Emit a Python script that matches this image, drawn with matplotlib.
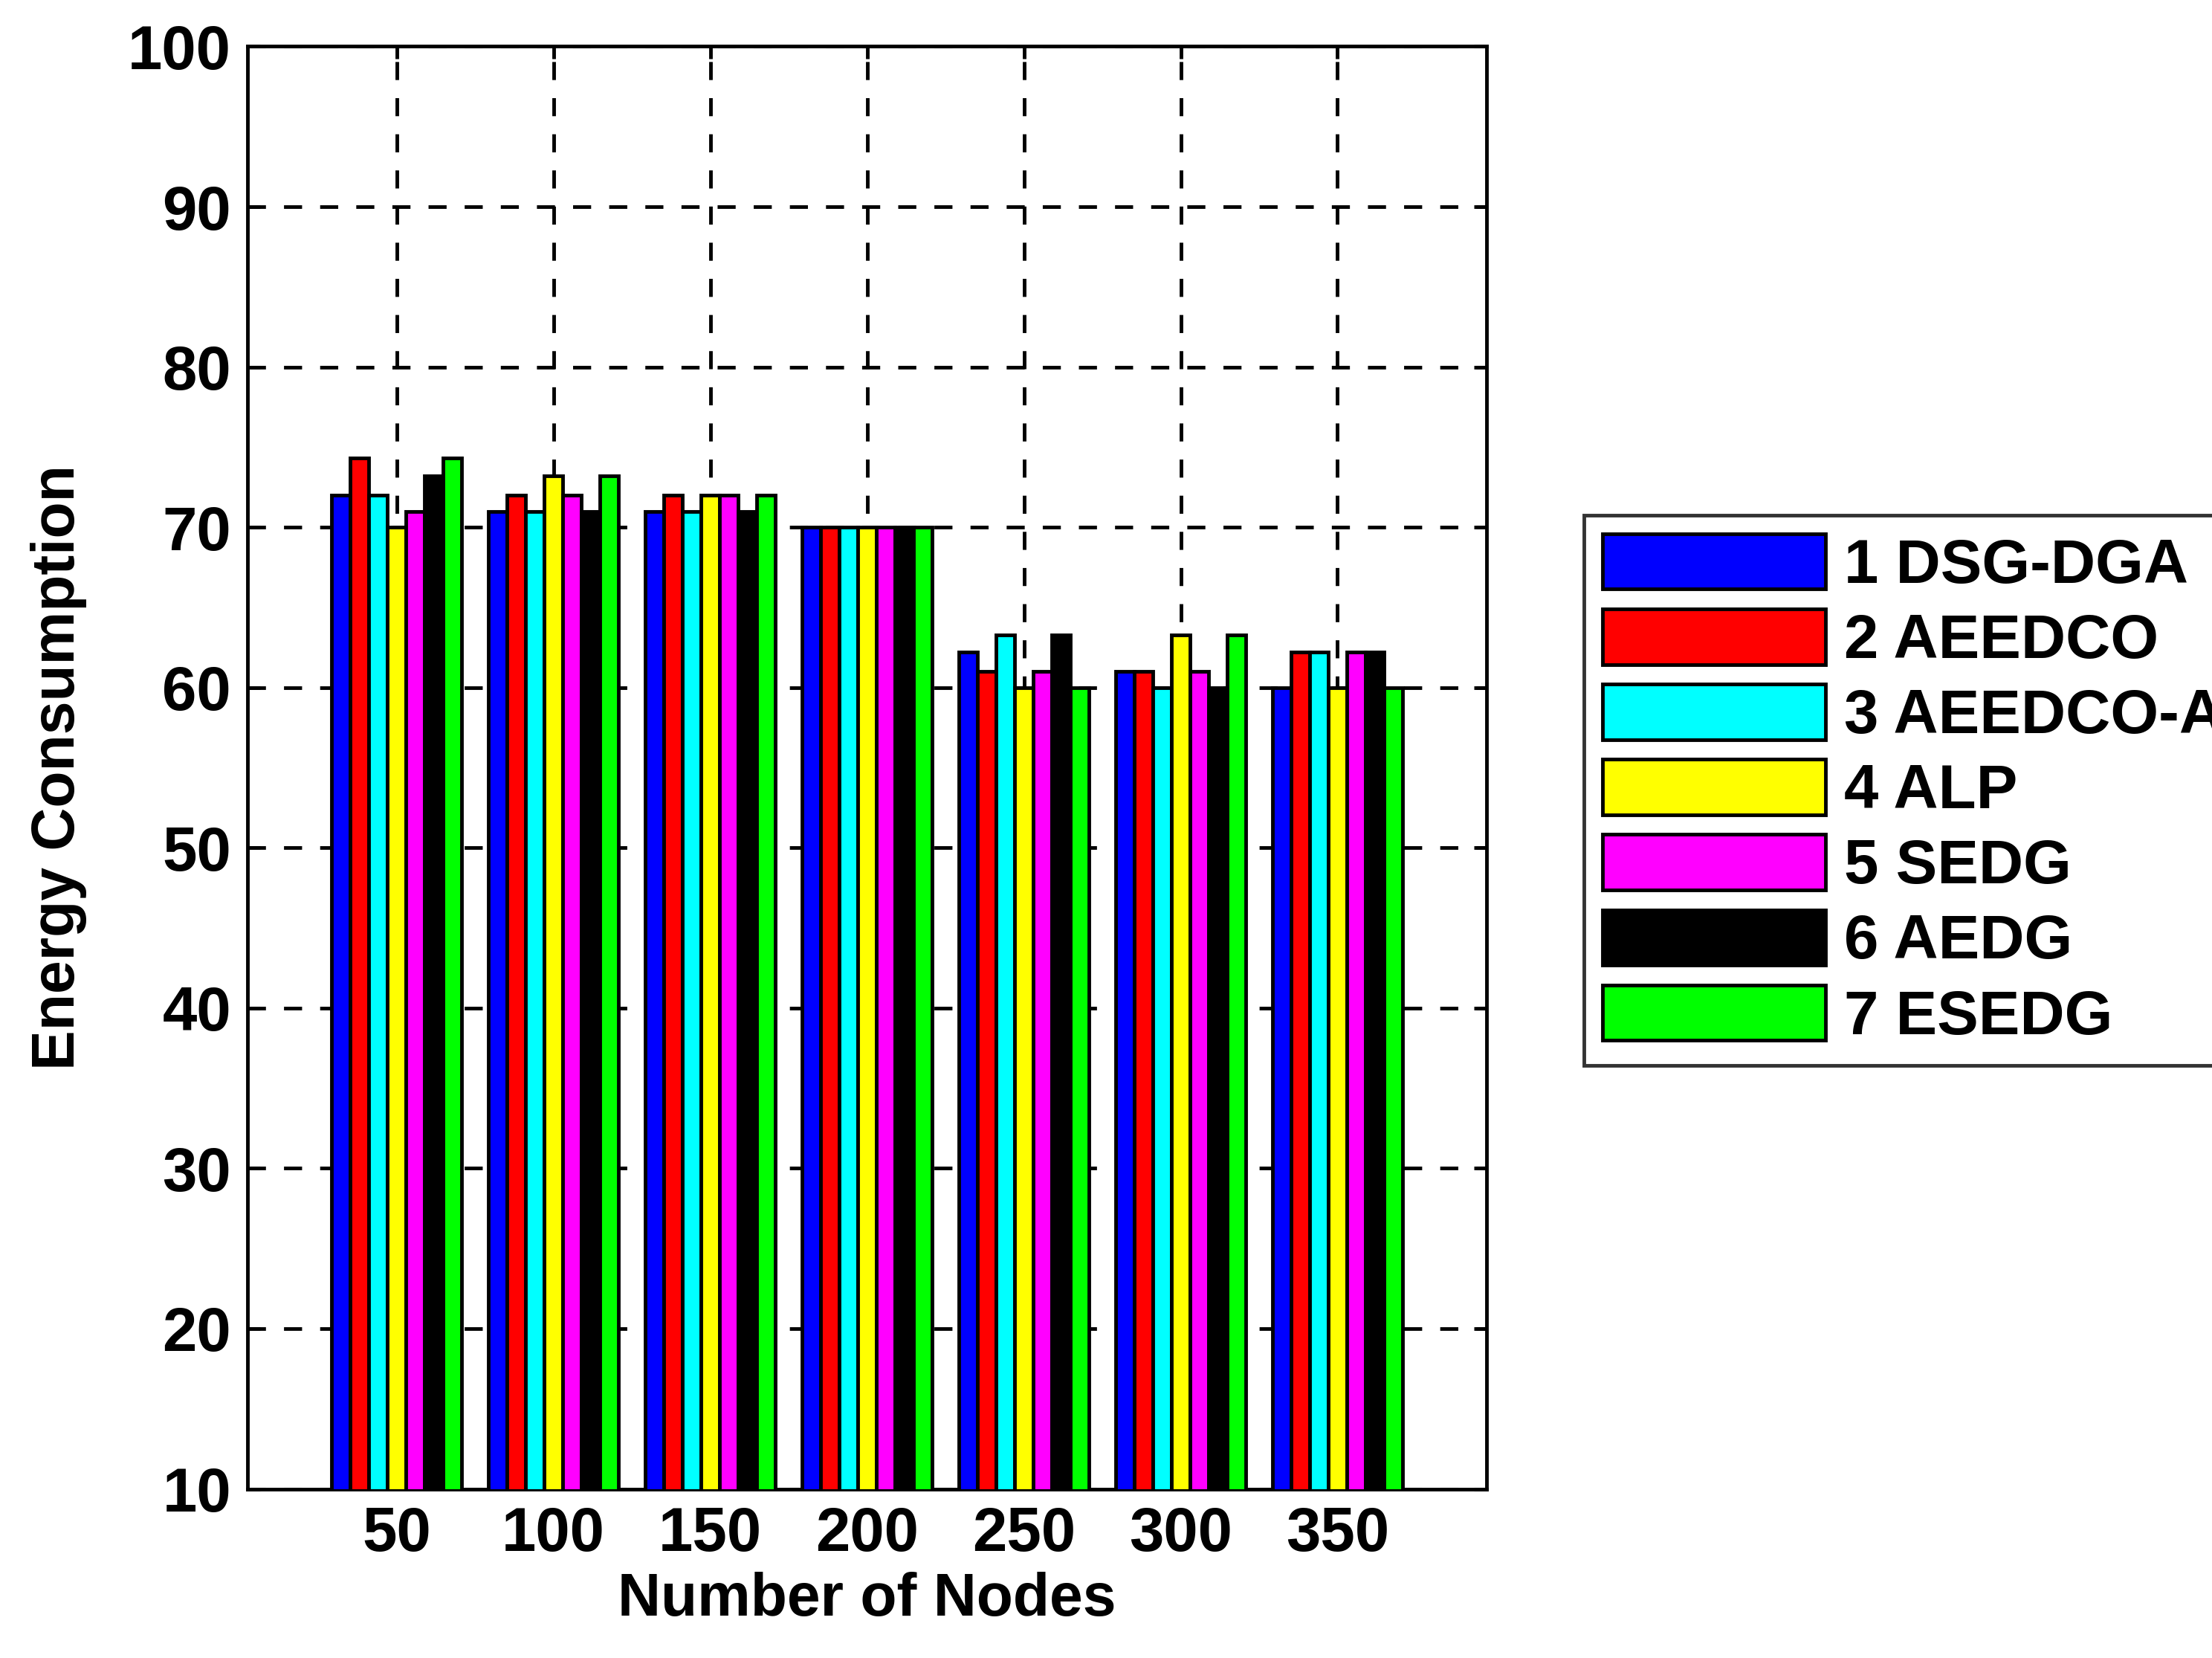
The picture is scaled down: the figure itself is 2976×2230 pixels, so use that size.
import numpy as np
import matplotlib
matplotlib.use("Agg")
import matplotlib.pyplot as plt

plt.rcParams['font.family'] = ['Liberation Sans', 'DejaVu Sans']
plt.rcParams['font.weight'] = 'bold'

nodes = ['50', '100', '150', '200', '250', '300', '350']
series = ['1 DSG-DGA', '2 AEEDCO', '3 AEEDCO-A', '4 ALP', '5 SEDG', '6 AEDG', '7 ESEDG']
colors = ['#0000ff', '#ff0000', '#00ffff', '#ffff00', '#ff00ff', '#000000', '#00ff00']

dsg_dga  = [72, 71, 71, 70, 62.2, 61, 60]
aeedco   = [74.3, 72, 72, 70, 61, 61, 62.2]
aeedco_a = [72, 71, 71, 70, 63.3, 60, 62.2]
alp      = [70, 73.2, 72, 70, 60, 63.3, 60]
sedg     = [71, 72, 72, 70, 61, 61, 62.2]
aedg     = [73.2, 71, 71, 70, 63.3, 60, 62.2]
esedg    = [74.3, 73.2, 72, 70, 60, 63.3, 60]
values = [dsg_dga, aeedco, aeedco_a, alp, sedg, aedg, esedg]

fig = plt.figure(figsize=(29.76, 22.30), dpi=100)
ax = fig.add_axes([0.112, 0.102, 0.56, 0.87])

x = np.arange(1, len(nodes) + 1)
w = 0.83 / 7
bars = []
for i, (vals, c) in enumerate(zip(values, colors)):
    b = ax.bar(x + (i - 3) * w, vals, w, color=c, edgecolor='black', linewidth=3.5, zorder=3)
    bars.append(b)

ax.set_ylim(10, 100)
ax.set_xlim(0.05, 7.95)
ax.set_xticks(x)
ax.set_xticklabels(nodes)
ax.set_yticks(range(10, 101, 10))
ax.tick_params(labelsize=60, width=3.5, length=12, direction='in', pad=16, top=True, right=True)
ax.grid(True, color='black', linestyle=(0, (5, 5)), linewidth=3.5, zorder=0)
for s in ax.spines.values():
    s.set_linewidth(3.5)
ax.set_xlabel('Number of Nodes', fontsize=58, fontweight='bold', labelpad=8)
ax.set_ylabel('Energy Consumption', fontsize=58, fontweight='bold', labelpad=40)

leg = fig.legend(bars, series, loc='upper left', bbox_to_anchor=(0.702, 0.708),
                 fontsize=60, frameon=True, fancybox=False, edgecolor='black',
                 handlelength=3.6, handleheight=1.0, handletextpad=0.3,
                 labelspacing=0.22, borderpad=0.3)
leg.get_frame().set_linewidth(3.5)
for h in leg.legend_handles:
    h.set_linewidth(3.5)

fig.savefig('out.png', dpi=100)
